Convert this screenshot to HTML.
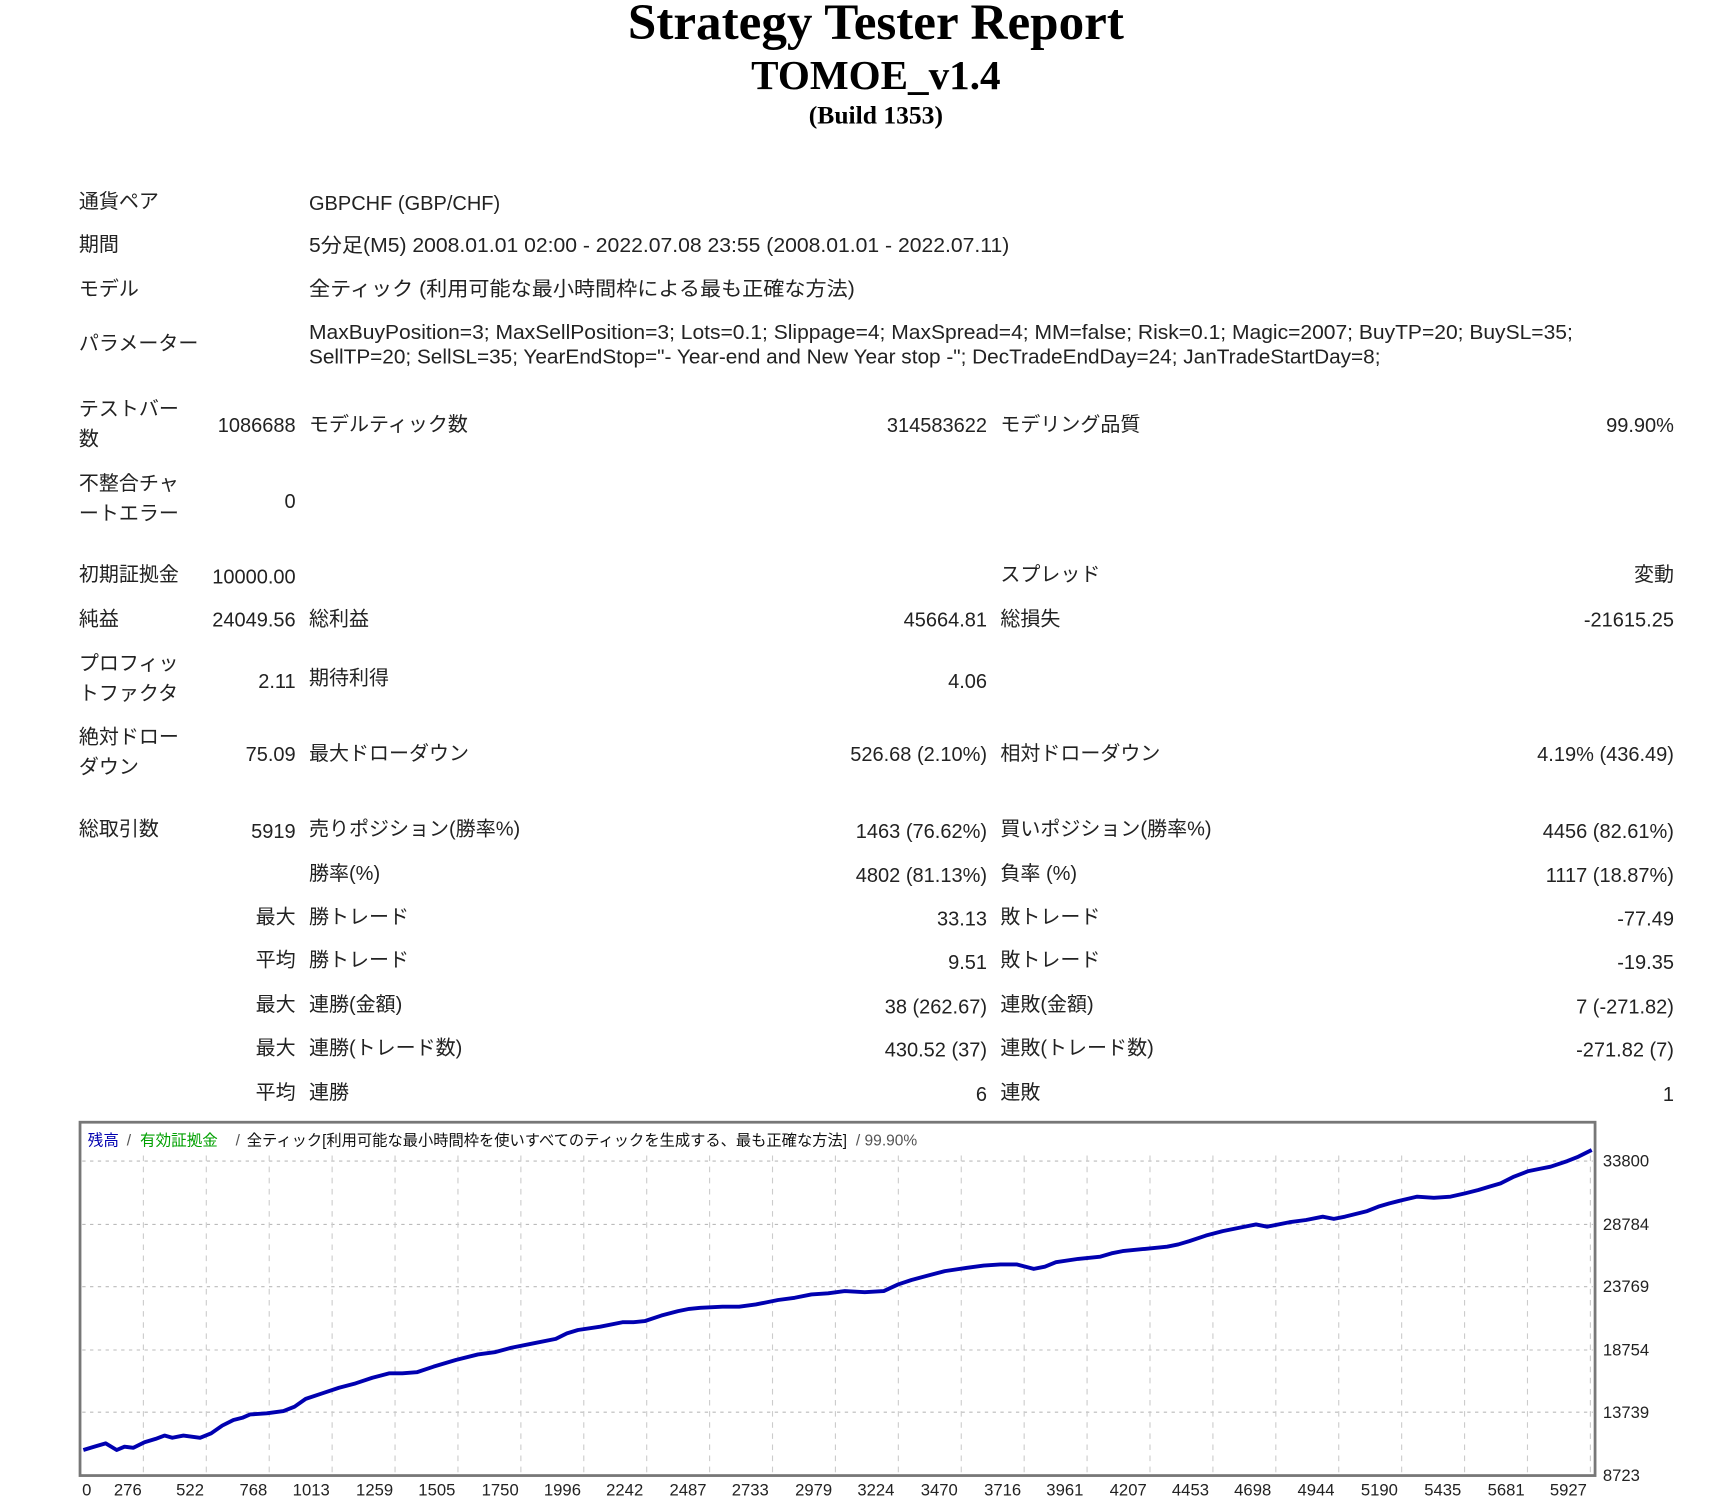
<!DOCTYPE html>
<html><head><meta charset="utf-8"><style>
html,body{margin:0;padding:0;background:#fff;width:1734px;height:1500px;overflow:hidden}
svg{display:block}
.t{font-family:"Liberation Sans","Noto Sans CJK JP",sans-serif;font-size:18px;fill:#222}
.s{font-family:"Liberation Serif","Noto Serif CJK SC",serif;font-weight:bold;fill:#000;text-anchor:middle}
.r{text-anchor:end}
.ax{font-family:"Liberation Sans","Noto Sans CJK JP",sans-serif;font-size:15px;fill:#222}
</style></head><body>
<svg width="1734" height="1500" viewBox="0 0 1560 1350" preserveAspectRatio="none" xmlns="http://www.w3.org/2000/svg">
<text class="s" x="788" y="35" font-size="46">Strategy Tester Report</text>
<text class="s" x="788" y="80" font-size="37">TOMOE_v1.4</text>
<text class="s" x="788" y="111" font-size="23">(Build 1353)</text>

<g class="t">
<text x="71" y="187">通貨ペア</text><text x="278" y="189">GBPCHF (GBP/CHF)</text>
<text x="71" y="226">期間</text><text x="278" y="227" textLength="630" lengthAdjust="spacingAndGlyphs">5分足(M5) 2008.01.01 02:00 - 2022.07.08 23:55 (2008.01.01 - 2022.07.11)</text>
<text x="71" y="266">モデル</text><text x="278" y="266" textLength="491" lengthAdjust="spacingAndGlyphs">全ティック (利用可能な最小時間枠による最も正確な方法)</text>
<text x="71" y="315">パラメーター</text>
<text x="278" y="305" textLength="1137" lengthAdjust="spacingAndGlyphs">MaxBuyPosition=3; MaxSellPosition=3; Lots=0.1; Slippage=4; MaxSpread=4; MM=false; Risk=0.1; Magic=2007; BuyTP=20; BuySL=35;</text>
<text x="278" y="327" textLength="964" lengthAdjust="spacingAndGlyphs">SellTP=20; SellSL=35; YearEndStop="- Year-end and New Year stop -"; DecTradeEndDay=24; JanTradeStartDay=8;</text>

<text x="71" y="374">テストバー</text><text x="71" y="401">数</text>
<text class="r" x="266" y="389">1086688</text><text x="278" y="388">モデルティック数</text>
<text class="r" x="888" y="389">314583622</text><text x="900" y="388">モデリング品質</text>
<text class="r" x="1506" y="389">99.90%</text>

<text x="71" y="441">不整合チャ</text><text x="71" y="468">ートエラー</text>
<text class="r" x="266" y="457">0</text>

<text x="71" y="523">初期証拠金</text><text class="r" x="266" y="525">10000.00</text>
<text x="900" y="523">スプレッド</text><text class="r" x="1506" y="523">変動</text>

<text x="71" y="563">純益</text><text class="r" x="266" y="564">24049.56</text>
<text x="278" y="563">総利益</text><text class="r" x="888" y="564">45664.81</text>
<text x="900" y="563">総損失</text><text class="r" x="1506" y="564">-21615.25</text>

<text x="71" y="603">プロフィッ</text><text x="71" y="630">トファクタ</text>
<text class="r" x="266" y="619">2.11</text><text x="278" y="616">期待利得</text><text class="r" x="888" y="619">4.06</text>

<text x="71" y="669">絶対ドロー</text><text x="71" y="696">ダウン</text>
<text class="r" x="266" y="685">75.09</text><text x="278" y="684">最大ドローダウン</text>
<text class="r" x="888" y="685">526.68 (2.10%)</text><text x="900" y="684">相対ドローダウン</text>
<text class="r" x="1506" y="685">4.19% (436.49)</text>

<text x="71" y="752">総取引数</text><text class="r" x="266" y="754">5919</text>
<text x="278" y="752">売りポジション(勝率%)</text><text class="r" x="888" y="754">1463 (76.62%)</text>
<text x="900" y="752">買いポジション(勝率%)</text><text class="r" x="1506" y="754">4456 (82.61%)</text>

<text x="278" y="792">勝率(%)</text><text class="r" x="888" y="794">4802 (81.13%)</text>
<text x="900" y="792">負率 (%)</text><text class="r" x="1506" y="794">1117 (18.87%)</text>

<text class="r" x="266" y="831">最大</text><text x="278" y="831">勝トレード</text><text class="r" x="888" y="833">33.13</text>
<text x="900" y="831">敗トレード</text><text class="r" x="1506" y="833">-77.49</text>

<text class="r" x="266" y="870">平均</text><text x="278" y="870">勝トレード</text><text class="r" x="888" y="872">9.51</text>
<text x="900" y="870">敗トレード</text><text class="r" x="1506" y="872">-19.35</text>

<text class="r" x="266" y="910">最大</text><text x="278" y="910">連勝(金額)</text><text class="r" x="888" y="912">38 (262.67)</text>
<text x="900" y="910">連敗(金額)</text><text class="r" x="1506" y="912">7 (-271.82)</text>

<text class="r" x="266" y="949">最大</text><text x="278" y="949">連勝(トレード数)</text><text class="r" x="888" y="951">430.52 (37)</text>
<text x="900" y="949">連敗(トレード数)</text><text class="r" x="1506" y="951">-271.82 (7)</text>

<text class="r" x="266" y="989">平均</text><text x="278" y="989">連勝</text><text class="r" x="888" y="991">6</text>
<text x="900" y="989">連敗</text><text class="r" x="1506" y="991">1</text>
</g>

<!-- chart -->
<rect x="72" y="1010" width="1363" height="318" fill="#fff" stroke="#777" stroke-width="2.5"/>
<g stroke="#bbb" stroke-width="1" stroke-dasharray="3,4">
<line x1="74" x2="1433" y1="1045" y2="1045"/>
<line x1="74" x2="1433" y1="1102" y2="1102"/>
<line x1="74" x2="1433" y1="1158" y2="1158"/>
<line x1="74" x2="1433" y1="1215" y2="1215"/>
<line x1="74" x2="1433" y1="1271" y2="1271"/>
</g>
<g stroke="#ccc" stroke-width="1" stroke-dasharray="5,5">
<line x1="129" x2="129" y1="1040" y2="1326"/><line x1="185.6" x2="185.6" y1="1040" y2="1326"/>
<line x1="242.2" x2="242.2" y1="1040" y2="1326"/><line x1="298.8" x2="298.8" y1="1040" y2="1326"/>
<line x1="355.4" x2="355.4" y1="1040" y2="1326"/><line x1="412" x2="412" y1="1040" y2="1326"/>
<line x1="468.6" x2="468.6" y1="1040" y2="1326"/><line x1="525.2" x2="525.2" y1="1040" y2="1326"/>
<line x1="581.8" x2="581.8" y1="1040" y2="1326"/><line x1="638.4" x2="638.4" y1="1040" y2="1326"/>
<line x1="695" x2="695" y1="1040" y2="1326"/><line x1="751.6" x2="751.6" y1="1040" y2="1326"/>
<line x1="808.2" x2="808.2" y1="1040" y2="1326"/><line x1="864.8" x2="864.8" y1="1040" y2="1326"/>
<line x1="921.4" x2="921.4" y1="1040" y2="1326"/><line x1="978" x2="978" y1="1040" y2="1326"/>
<line x1="1034.6" x2="1034.6" y1="1040" y2="1326"/><line x1="1091.2" x2="1091.2" y1="1040" y2="1326"/>
<line x1="1147.8" x2="1147.8" y1="1040" y2="1326"/><line x1="1204.4" x2="1204.4" y1="1040" y2="1326"/>
<line x1="1261" x2="1261" y1="1040" y2="1326"/><line x1="1317.6" x2="1317.6" y1="1040" y2="1326"/>
<line x1="1374.2" x2="1374.2" y1="1040" y2="1326"/><line x1="1430.8" x2="1430.8" y1="1040" y2="1326"/>
</g>
<g font-family="Liberation Sans,Noto Sans CJK JP,sans-serif" font-size="14">
<text x="79" y="1031" fill="#0000b0">残高</text><text x="114" y="1031" fill="#555">/</text>
<text x="126" y="1031" fill="#00a000">有効証拠金</text><text x="212" y="1031" fill="#555">/</text>
<text x="222" y="1031" fill="#111" textLength="540" lengthAdjust="spacingAndGlyphs">全ティック[利用可能な最小時間枠を使いすべてのティックを生成する、最も正確な方法]</text>
<text x="770" y="1031" fill="#555">/ 99.90%</text>
</g>
<polyline fill="none" stroke="#0000b0" stroke-width="3.5" stroke-linejoin="round" points="75,1305 85,1302 95,1299 105,1305 112,1302 120,1303 130,1298 140,1295 148,1292 155,1294 165,1292 180,1294 190,1290 200,1283 210,1278 218,1276 225,1273 240,1272 255,1270 265,1266 275,1259 290,1254 305,1249 320,1245 335,1240 350,1236 362,1236 375,1235 390,1230 410,1224 430,1219 445,1217 460,1213 480,1209 500,1205 510,1200 520,1197 540,1194 560,1190 570,1190 580,1189 595,1184 610,1180 620,1178 630,1177 650,1176 665,1176 680,1174 690,1172 700,1170 715,1168 730,1165 745,1164 760,1162 778,1163 795,1162 808,1156 820,1152 835,1148 850,1144 870,1141 885,1139 900,1138 915,1138 930,1142 940,1140 950,1136 970,1133 990,1131 1000,1128 1010,1126 1030,1124 1050,1122 1060,1120 1070,1117 1085,1112 1100,1108 1115,1105 1130,1102 1140,1104 1160,1100 1175,1098 1190,1095 1200,1097 1210,1095 1230,1090 1240,1086 1250,1083 1262,1080 1275,1077 1290,1078 1305,1077 1318,1074 1330,1071 1340,1068 1350,1065 1362,1059 1375,1054 1385,1052 1395,1050 1410,1045 1420,1041 1432,1035"/>
<g class="ax">
<text x="1442" y="1050">33800</text><text x="1442" y="1107">28784</text><text x="1442" y="1163">23769</text>
<text x="1442" y="1220">18754</text><text x="1442" y="1276">13739</text><text x="1442" y="1333">8723</text>
</g>
<g class="ax" text-anchor="middle">
<text x="78" y="1346">0</text><text x="115" y="1346">276</text><text x="171" y="1346">522</text><text x="228" y="1346">768</text>
<text x="280" y="1346">1013</text><text x="337" y="1346">1259</text><text x="393" y="1346">1505</text><text x="450" y="1346">1750</text>
<text x="506" y="1346">1996</text><text x="562" y="1346">2242</text><text x="619" y="1346">2487</text><text x="675" y="1346">2733</text>
<text x="732" y="1346">2979</text><text x="788" y="1346">3224</text><text x="845" y="1346">3470</text><text x="902" y="1346">3716</text>
<text x="958" y="1346">3961</text><text x="1015" y="1346">4207</text><text x="1071" y="1346">4453</text><text x="1127" y="1346">4698</text>
<text x="1184" y="1346">4944</text><text x="1241" y="1346">5190</text><text x="1298" y="1346">5435</text><text x="1355" y="1346">5681</text>
<text x="1411" y="1346">5927</text>
</g>
</svg>
</body></html>
